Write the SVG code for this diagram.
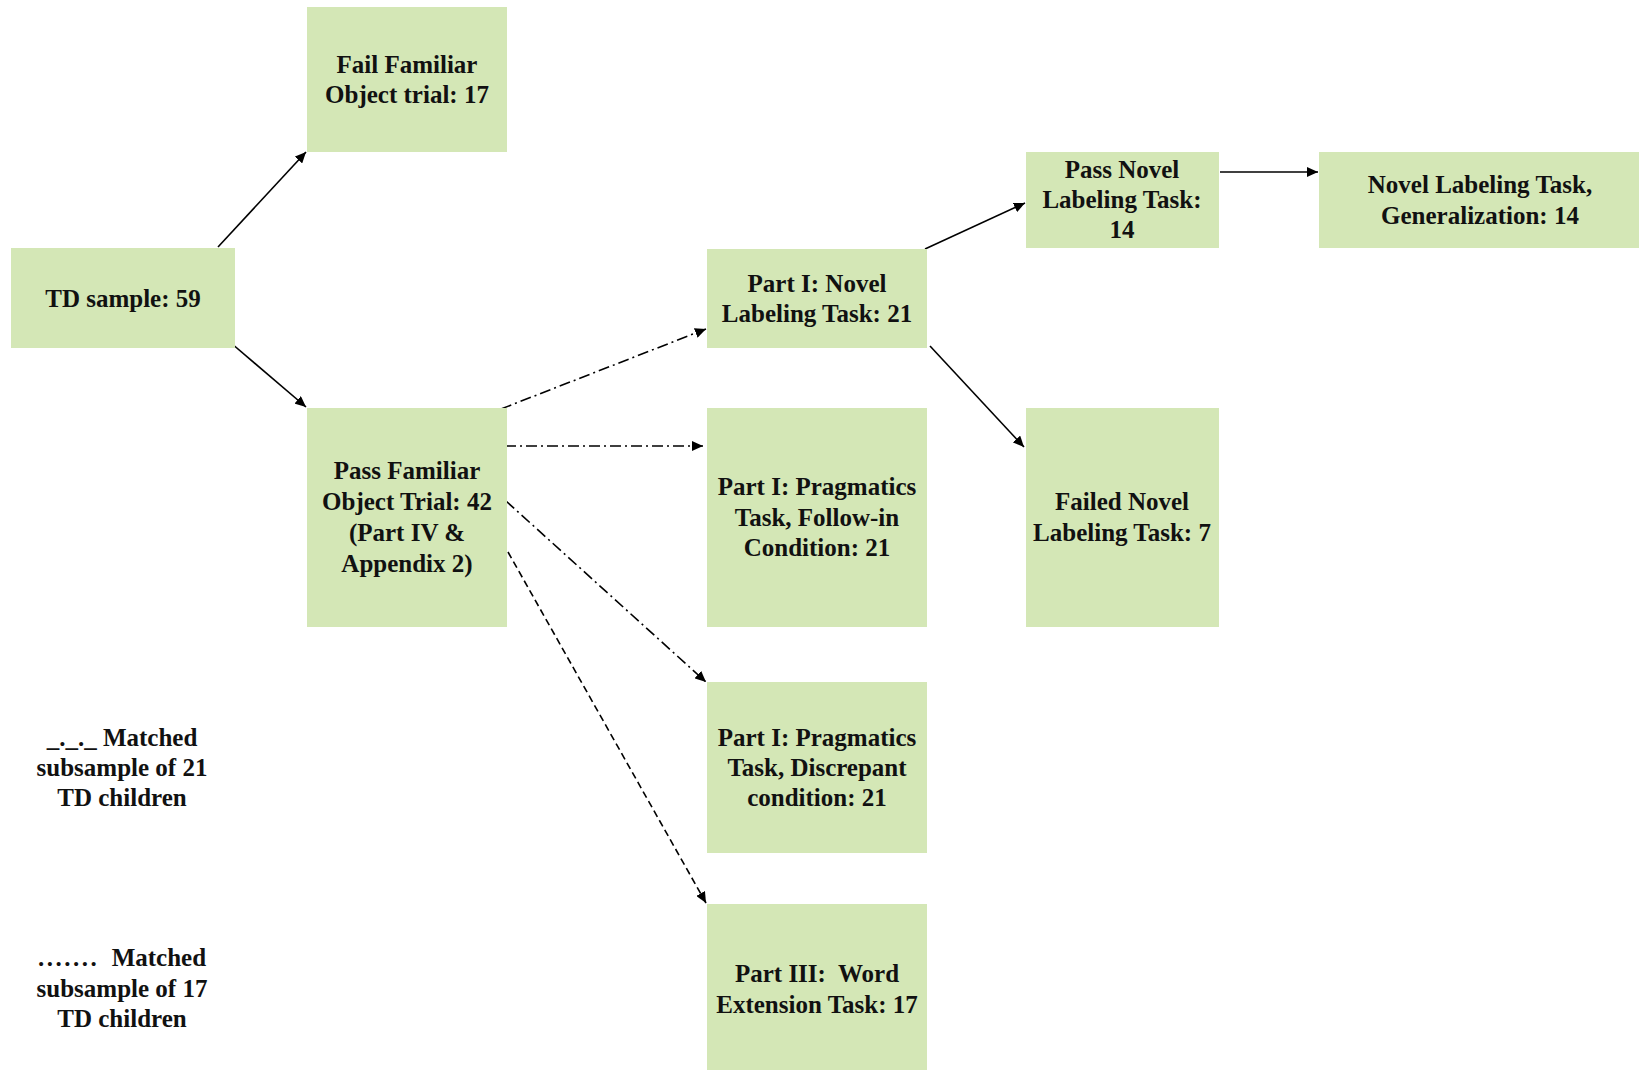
<svg xmlns="http://www.w3.org/2000/svg" width="1639" height="1070" viewBox="0 0 1639 1070">
<style>
.box{fill:#D4E7B6;}
.t{font-family:"Liberation Serif","Times New Roman",serif;font-weight:bold;font-size:25px;fill:#111;text-anchor:middle;white-space:pre;}
.c{fill:none;stroke:#000;stroke-width:1.6;}
.dd{stroke-dasharray:11 4 2 4;}
.ds{stroke-dasharray:7 4;}
</style>
<defs>
<marker id="ah" markerUnits="userSpaceOnUse" markerWidth="12" markerHeight="10" refX="11" refY="5" orient="auto">
<path d="M0,0 L11,5 L0,10 Z" fill="#000"/>
</marker>
</defs>
<rect width="1639" height="1070" fill="#fff"/>
<g id="connectors">
<line class="c" x1="218" y1="247" x2="306" y2="152" marker-end="url(#ah)"/>
<line class="c" x1="231" y1="343" x2="306" y2="407" marker-end="url(#ah)"/>
<line class="c dd" x1="501" y1="409" x2="706" y2="329" marker-end="url(#ah)"/>
<line class="c dd" x1="505" y1="446" x2="703" y2="446" marker-end="url(#ah)"/>
<line class="c dd" x1="506" y1="501" x2="706" y2="682" marker-end="url(#ah)"/>
<line class="c ds" x1="508" y1="552" x2="706" y2="903" marker-end="url(#ah)"/>
<line class="c" x1="925" y1="249" x2="1025" y2="203" marker-end="url(#ah)"/>
<line class="c" x1="930" y1="346" x2="1024" y2="447" marker-end="url(#ah)"/>
<line class="c" x1="1220" y1="172" x2="1318" y2="172" marker-end="url(#ah)"/>
</g>
<g id="fail-familiar">
<rect class="box" x="307" y="7" width="200" height="145"/>
<text class="t" x="407" y="73">Fail Familiar</text>
<text class="t" x="407" y="103">Object trial: 17</text>
</g>
<g id="td-sample">
<rect class="box" x="11" y="248" width="224" height="100"/>
<text class="t" x="123" y="307">TD sample: 59</text>
</g>
<g id="pass-familiar">
<rect class="box" x="307" y="408" width="200" height="219"/>
<text class="t" x="407" y="479">Pass Familiar</text>
<text class="t" x="407" y="510">Object Trial: 42</text>
<text class="t" x="407" y="541">(Part IV &amp;</text>
<text class="t" x="407" y="572">Appendix 2)</text>
</g>
<g id="novel-labeling">
<rect class="box" x="707" y="249" width="220" height="99"/>
<text class="t" x="817" y="292">Part I: Novel</text>
<text class="t" x="817" y="322">Labeling Task: 21</text>
</g>
<g id="pass-novel">
<rect class="box" x="1026" y="152" width="193" height="96"/>
<text class="t" x="1122" y="178">Pass Novel</text>
<text class="t" x="1122" y="208">Labeling Task:</text>
<text class="t" x="1122" y="238">14</text>
</g>
<g id="generalization">
<rect class="box" x="1319" y="152" width="320" height="96"/>
<text class="t" x="1480" y="193">Novel Labeling Task,</text>
<text class="t" x="1480" y="224">Generalization: 14</text>
</g>
<g id="follow-in">
<rect class="box" x="707" y="408" width="220" height="219"/>
<text class="t" x="817" y="495">Part I: Pragmatics</text>
<text class="t" x="817" y="526">Task, Follow-in</text>
<text class="t" x="817" y="556">Condition: 21</text>
</g>
<g id="failed-novel">
<rect class="box" x="1026" y="408" width="193" height="219"/>
<text class="t" x="1122" y="510">Failed Novel</text>
<text class="t" x="1122" y="541">Labeling Task: 7</text>
</g>
<g id="discrepant">
<rect class="box" x="707" y="682" width="220" height="171"/>
<text class="t" x="817" y="746">Part I: Pragmatics</text>
<text class="t" x="817" y="776">Task, Discrepant</text>
<text class="t" x="817" y="806">condition: 21</text>
</g>
<g id="word-extension">
<rect class="box" x="707" y="904" width="220" height="166"/>
<text class="t" x="817" y="982">Part III:  Word</text>
<text class="t" x="817" y="1013">Extension Task: 17</text>
</g>
<g id="legend">
<text class="t" x="122" y="746">_._._ Matched</text>
<text class="t" x="122" y="776">subsample of 21</text>
<text class="t" x="122" y="806">TD children</text>
<text class="t" x="122" y="966"><tspan letter-spacing="2.5">.......</tspan>  Matched</text>
<text class="t" x="122" y="997">subsample of 17</text>
<text class="t" x="122" y="1027">TD children</text>
</g>
</svg>
